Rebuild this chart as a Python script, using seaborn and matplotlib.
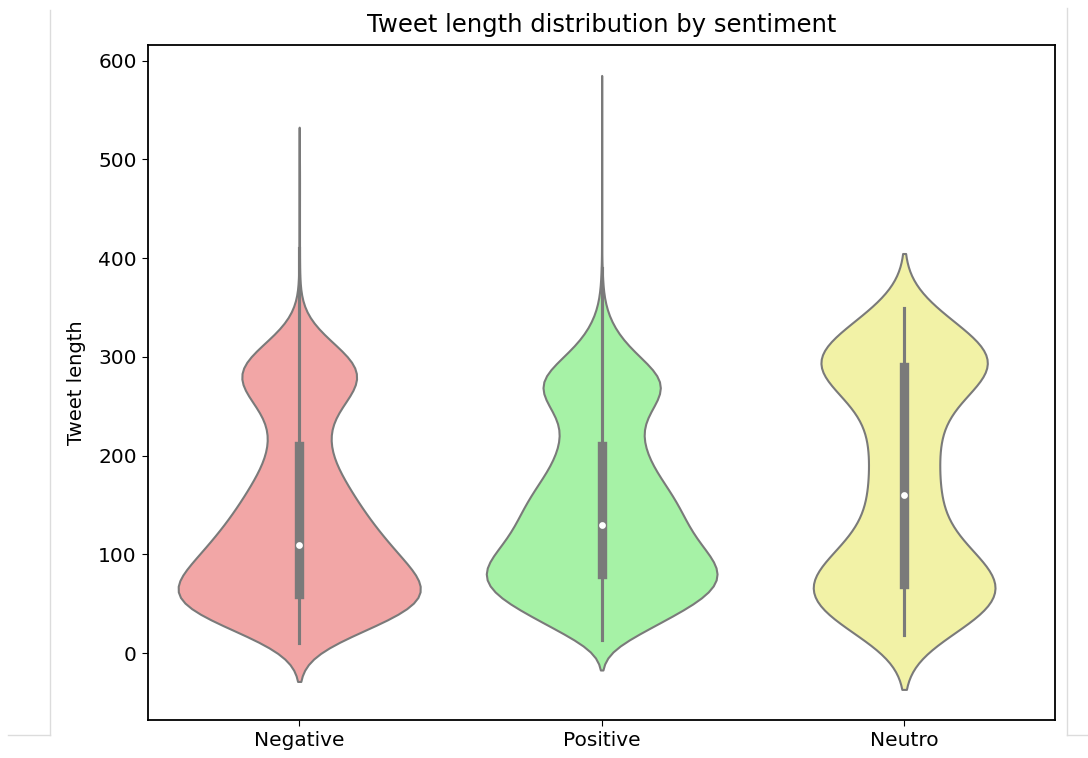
import numpy as np
import pandas as pd
import matplotlib
matplotlib.use("Agg")
import matplotlib.pyplot as plt
import seaborn as sns
from matplotlib.lines import Line2D

# tweet lengths (binned) and how many tweets fall on each value, per sentiment
categories = ["Negative", "Positive", "Neutro"]
colors = ["#ff9999", "#99ff99", "#ffff99"]

neg_lengths = [10, 20, 30, 40, 50, 60, 70, 80, 90, 100, 110, 120, 130, 140, 150,
               160, 170, 180, 190, 200, 210, 220, 230, 240, 250, 260, 270, 280,
               290, 300, 310, 320, 330, 340, 350, 360, 380, 410, 440, 470, 494]
neg_counts = [35, 63, 91, 124, 145, 152, 140, 129, 119, 109, 98, 91, 81, 73, 66,
              60, 53, 46, 39, 35, 32, 31, 31, 35, 45, 56, 69, 77,
              73, 60, 43, 26, 13, 6, 2, 1, 1, 1, 1, 1, 1]

pos_lengths = [13, 20, 30, 40, 50, 60, 70, 80, 90, 100, 110, 120, 130, 140, 150,
               160, 170, 180, 190, 200, 210, 220, 230, 240, 250, 260, 270, 280,
               290, 300, 310, 320, 330, 340, 350, 360, 370, 380, 390, 420, 450,
               480, 510, 555]
pos_counts = [50, 99, 149, 205, 257, 297, 320, 330, 314, 290, 264, 244, 231, 218, 208,
              191, 172, 152, 135, 122, 114, 106, 106, 118, 140, 163, 178, 168,
              136, 100, 70, 48, 31, 18, 10, 5, 3, 2, 1, 1, 1,
              1, 1, 1]

neu_lengths = [18, 30, 40, 50, 60, 70, 80, 90, 100, 110, 120, 130, 140, 150, 160,
               170, 180, 190, 200, 210, 220, 230, 240, 250, 260, 270, 280, 290,
               300, 310, 320, 330, 340, 350]
neu_counts = [28, 35, 41, 44, 48, 48, 45, 40, 29, 23, 20, 16, 16, 16, 16,
              15, 15, 15, 15, 15, 15, 15, 16, 18, 21, 31, 40, 54,
              50, 42, 29, 21, 19, 18]


def build_frame():
    parts = []
    for name, lengths, counts in [
        ("Negative", neg_lengths, neg_counts),
        ("Positive", pos_lengths, pos_counts),
        ("Neutro", neu_lengths, neu_counts),
    ]:
        vals = np.repeat(lengths, counts)
        parts.append(pd.DataFrame({"sentiment": name, "length": vals}))
    return pd.concat(parts, ignore_index=True)


def main():
    df = build_frame()

    fig = plt.figure(figsize=(10.88, 7.58), dpi=100)
    ax = fig.add_axes([0.136, 0.050, 0.834, 0.891])

    # common_norm -> violins share one area scale, like the classic seaborn look
    sns.violinplot(
        data=df, x="sentiment", y="length", hue="sentiment",
        order=categories, hue_order=categories, palette=colors,
        density_norm="area", common_norm=True,
        linewidth=1.5, legend=False, ax=ax,
        inner_kws=dict(marker="o", markersize=3.5),
    )

    ax.set_title("Tweet length distribution by sentiment", fontsize=17.5, pad=9)
    ax.set_xlabel("")
    ax.set_ylabel("Tweet length", fontsize=14, labelpad=9)
    ax.tick_params(axis="both", labelsize=14.5, length=4.5)
    for sp in ax.spines.values():
        sp.set_linewidth(1.3)

    # notebook cell borders from the screenshot
    g = "#dcdcdc"
    fig.add_artist(Line2D([50 / 1088, 50 / 1088], [1 - 10 / 758, 1 - 735 / 758], color=g, lw=1))
    fig.add_artist(Line2D([8 / 1088, 50 / 1088], [1 - 735 / 758, 1 - 735 / 758], color=g, lw=1))
    fig.add_artist(Line2D([1067 / 1088, 1067 / 1088], [1 - 8 / 758, 1 - 735 / 758], color=g, lw=1))
    fig.add_artist(Line2D([1067 / 1088, 1088 / 1088], [1 - 735 / 758, 1 - 735 / 758], color=g, lw=1))

    fig.savefig("out.png", dpi=100)


if __name__ == "__main__":
    main()
